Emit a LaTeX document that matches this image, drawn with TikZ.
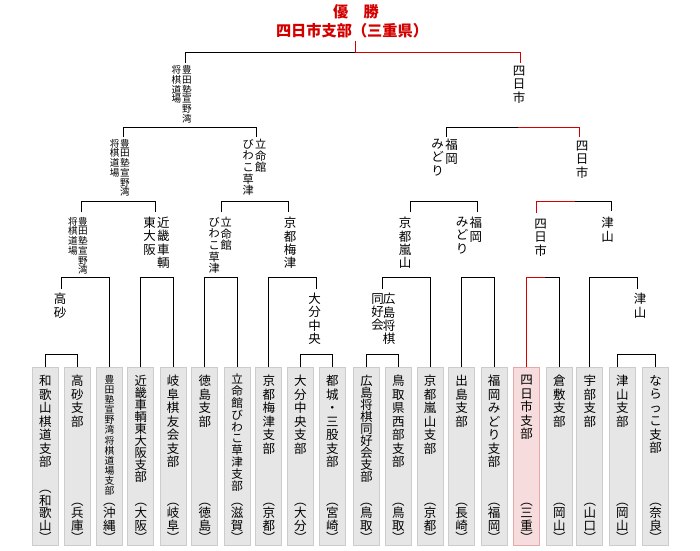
\documentclass[tikz,border=0pt]{standalone}
\usepackage{fontspec}
\newfontfamily\jp{Noto Sans CJK JP}
\definecolor{winred}{HTML}{D40000}
\definecolor{boxfill}{HTML}{E6E6E6}
\definecolor{boxline}{HTML}{CCCCCC}
\definecolor{pinkfill}{HTML}{F6DCDC}
\definecolor{pinkline}{HTML}{E2AAAA}
\begin{document}
\begin{tikzpicture}[x=1pt,y=-1pt,
  conn/.style={line width=1pt},
  redconn/.style={line width=1pt,draw=winred},
  lab/.style={font=\jp\fontsize{12.5}{13.3}\selectfont, align=center, inner sep=0pt, anchor=north},
  labm/.style={font=\jp\fontsize{11.2}{11.6}\selectfont, align=center, inner sep=0pt, anchor=north},
  labs/.style={font=\jp\fontsize{9.6}{9.7}\selectfont, align=center, inner sep=0pt, anchor=north},
  gbox/.style={draw=boxline, fill=boxfill, line width=1pt, minimum width=26pt, minimum height=178pt, inner sep=0pt},
  pbox/.style={gbox, draw=pinkline, fill=pinkfill},
  bname/.style={font=\jp\fontsize{12.5}{13.5}\selectfont, align=center, inner sep=0pt, anchor=north},
  bnamenine/.style={bname, font=\jp\fontsize{12.3}{12}\selectfont},
  bnameten/.style={bname, font=\jp\fontsize{11.6}{11.8}\selectfont},
  bnamesmall/.style={bname, font=\jp\fontsize{9.8}{10.1}\selectfont},
  bpref/.style={font=\jp\fontsize{12.5}{12.5}\selectfont, align=center, inner sep=0pt, anchor=south},
  ttl/.style={font=\jp\bfseries\fontsize{15.2}{17}\selectfont, text=winred, inner sep=0pt}
]
\fill[white] (0,0) rectangle (700,550);
\useasboundingbox (0,0) rectangle (700,550);

% bracket levels
\coordinate (y0) at (0,52);
\coordinate (y1) at (0,127);
\coordinate (y2) at (0,201);
\coordinate (y3) at (0,277);
\coordinate (y4) at (0,354.5);

% title
\node[ttl] (ttlA) at (356,12) {優　勝};
\node[ttl] (ttlB) at (352,31) {四日市支部（三重県）};
\coordinate (tt) at (355.4,40.5);

% boxes
\foreach \i/\x in {0/45.4,1/77.3,2/109.4,3/140.8,4/173.2,5/204.9,6/237.2,7/268.9,8/300.4,9/332.3,10/366.4,11/398.3,12/430.2,13/461.7,14/494,16/559.3,17/589.8,18/622.3,19/655.6}
  \node[gbox] (b\i) at (\x,456.5) {};
\node[pbox] (b15) at (526.6,456.5) {};

% box names
\node[bname] (n0) at (b0.north |- 0,375) {和\\歌\\山\\棋\\道\\支\\部};
\node[bname] (n1) at (b1.north |- 0,375) {高\\砂\\支\\部};
\node[bnamesmall] (n2) at (b2.north |- 0,375) {豊\\田\\塾\\宣\\野\\湾\\将\\棋\\道\\場\\支\\部};
\node[bnamenine] (n3) at (b3.north |- 0,375) {近\\畿\\車\\輌\\東\\大\\阪\\支\\部};
\node[bname] (n4) at (b4.north |- 0,375) {岐\\阜\\棋\\友\\会\\支\\部};
\node[bname] (n5) at (b5.north |- 0,375) {徳\\島\\支\\部};
\node[bnameten] (n6) at (b6.north |- 0,374) {立\\命\\館\\び\\わ\\こ\\草\\津\\支\\部};
\node[bname] (n7) at (b7.north |- 0,375) {京\\都\\梅\\津\\支\\部};
\node[bname] (n8) at (b8.north |- 0,375) {大\\分\\中\\央\\支\\部};
\node[bname] (n9) at (b9.north |- 0,375) {都\\城\\・\\三\\股\\支\\部};
\node[bnamenine] (n10) at (b10.north |- 0,375) {広\\島\\将\\棋\\同\\好\\会\\支\\部};
\node[bname] (n11) at (b11.north |- 0,375) {鳥\\取\\県\\西\\部\\支\\部};
\node[bname] (n12) at (b12.north |- 0,375) {京\\都\\嵐\\山\\支\\部};
\node[bname] (n13) at (b13.north |- 0,375) {出\\島\\支\\部};
\node[bname] (n14) at (b14.north |- 0,375) {福\\岡\\み\\ど\\り\\支\\部};
\node[bname] (n15) at (b15.north |- 0,375) {四\\日\\市\\支\\部};
\node[bname] (n16) at (b16.north |- 0,375) {倉\\敷\\支\\部};
\node[bname] (n17) at (b17.north |- 0,375) {宇\\部\\支\\部};
\node[bname] (n18) at (b18.north |- 0,375) {津\\山\\支\\部};
\node[bname] (n19) at (b19.north |- 0,375) {な\\ら\\っ\\こ\\支\\部};

% prefectures
\foreach \i/\p in {0/{和\\歌\\山},1/{兵\\庫},2/{沖\\縄},3/{大\\阪},4/{岐\\阜},5/{徳\\島},6/{滋\\賀},7/{京\\都},8/{大\\分},9/{宮\\崎},10/{鳥\\取},11/{鳥\\取},12/{京\\都},13/{長\\崎},14/{福\\岡},15/{三\\重},16/{岡\\山},17/{山\\口},18/{岡\\山},19/{奈\\良}}
  \node[bpref] (p\i) at (b\i.south |- 0,543) {︵\\\p\\︶};

% labels level 1
\node[labs] (l1a) at (187,65.5) {豊\\田\\塾\\宣\\野\\湾};
\node[labs] (l1b) at (176.5,65.5) {将\\棋\\道\\場};
\node[lab] (l1c) at (519,66) {四\\日\\市};
% labels level 2
\node[labs] (l2a) at (125,139) {豊\\田\\塾\\宣\\野\\湾};
\node[labs] (l2b) at (114.7,139) {将\\棋\\道\\場};
\node[labm] (l2c) at (260.8,139) {立\\命\\館};
\node[labm] (l2d) at (248.3,139) {び\\わ\\こ\\草\\津};
\node[lab] (l2e) at (451.7,139) {福\\岡};
\node[lab] (l2f) at (437.7,139) {み\\ど\\り};
\node[lab] (l2g) at (582,141) {四\\日\\市};
% labels level 3
\node[labs] (l3a) at (82.8,217) {豊\\田\\塾\\宣\\野\\湾};
\node[labs] (l3b) at (72.8,217) {将\\棋\\道\\場};
\node[lab] (l3c) at (163.3,217) {近\\畿\\車\\輌};
\node[lab] (l3d) at (149.5,217) {東\\大\\阪};
\node[labm] (l3e) at (226.3,217) {立\\命\\館};
\node[labm] (l3f) at (214.2,217) {び\\わ\\こ\\草\\津};
\node[lab] (l3g) at (290,217) {京\\都\\梅\\津};
\node[lab] (l3h) at (405,217) {京\\都\\嵐\\山};
\node[lab] (l3i) at (475.8,217) {福\\岡};
\node[lab] (l3j) at (462.2,217) {み\\ど\\り};
\node[lab] (l3k) at (540.5,219) {四\\日\\市};
\node[lab] (l3l) at (607.5,217) {津\\山};
% labels level 4
\node[lab] (l4a) at (60,293) {高\\砂};
\node[lab] (l4b) at (314.5,293) {大\\分\\中\\央};
\node[lab] (l4c) at (389,293) {広\\島\\将\\棋};
\node[lab] (l4d) at (377.5,293) {同\\好\\会};
\node[lab] (l4e) at (640,293) {津\\山};

% connector end points
\coordinate (e0a) at (185.3,63);
\coordinate (e0b) at (520,63);
\coordinate (e1a) at (123.6,136.5);
\coordinate (e1b) at (256.5,136.5);
\coordinate (e1c) at (446.5,136.5);
\coordinate (e1d) at (579.4,137);
\coordinate (m1) at (518.2,127);
\coordinate (e2a) at (81.7,212);
\coordinate (e2b) at (155.3,212);
\coordinate (e2c) at (221,212);
\coordinate (e2d) at (288.3,212);
\coordinate (e2e) at (410,212);
\coordinate (e2f) at (477.3,212);
\coordinate (e2g) at (536,213);
\coordinate (e2h) at (611.5,211);
\coordinate (m2) at (575,201);
\coordinate (e3a) at (61.3,289);
\coordinate (e3b) at (316.3,289);
\coordinate (e3c) at (382,289);
\coordinate (e3d) at (637.3,289);
\coordinate (m3) at (545,277);
\coordinate (k18) at (617,367);

% final
\draw[redconn] (tt) -- (tt |- y0);
\draw[conn] (tt |- y0) -| (e0a);
\draw[redconn] (tt |- y0) -| (e0b);
% level 1
\draw[conn] (e1a) |- (e1b |- y1) -- (e1b);
\draw[conn] (e1c) |- (m1);
\draw[redconn] (m1) -| (e1d);
% level 2
\draw[conn] (e2a) |- (e2b |- y2) -- (e2b);
\draw[conn] (e2c) |- (e2d |- y2) -- (e2d);
\draw[conn] (e2e) |- (e2f |- y2) -- (e2f);
\draw[redconn] (e2g) |- (m2);
\draw[conn] (m2) -| (e2h);
% level 3
\draw[conn] (e3a) |- (b2.north |- y3) -- (b2.north);
\draw[conn] (b3.north) |- (b4.north |- y3) -- (b4.north);
\draw[conn] (b5.north) |- (b6.north |- y3) -- (b6.north);
\draw[conn] (b7.north) |- (e3b |- y3) -- (e3b);
\draw[conn] (e3c) |- (b12.north |- y3) -- (b12.north);
\draw[conn] (b13.north) |- (b14.north |- y3) -- (b14.north);
\draw[redconn] (b15.north) |- (m3);
\draw[conn] (m3) -| (b16.north);
\draw[conn] (b17.north) |- (e3d |- y3) -- (e3d);
% level 4
\draw[conn] (b0.north) |- (b1.north |- y4) -- (b1.north);
\draw[conn] (b8.north) |- (b9.north |- y4) -- (b9.north);
\draw[conn] (b10.north) |- (b11.north |- y4) -- (b11.north);
\draw[conn] (k18) |- (b19.north |- y4) -- (b19.north);
\end{tikzpicture}
\end{document}
